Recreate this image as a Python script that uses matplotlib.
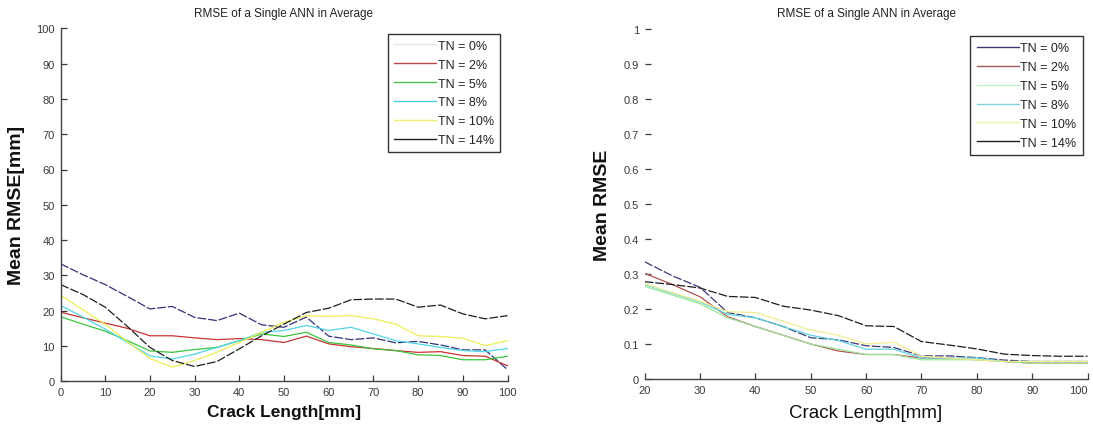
import matplotlib
matplotlib.use("Agg")
import matplotlib.pyplot as plt
from matplotlib.lines import Line2D

plt.rcParams['font.family'] = ['Liberation Sans', 'DejaVu Sans']

# ---- data: mean RMSE vs crack length for each training-noise (TN) level ----
labels = ["TN = 0%", "TN = 2%", "TN = 5%", "TN = 8%", "TN = 10%", "TN = 14%"]

# Left panel: RMSE in mm, crack length 0..100 mm
crack_mm = [0, 5, 10, 15, 20, 25, 30, 35, 40, 45, 50, 55, 60, 65, 70, 75, 80, 85, 90, 95, 100]
rmse_mm_tn0 = [33.3, 30.2, 27.4, 24.0, 20.5, 21.2, 18.1, 17.2, 19.3, 16.0, 15.3, 18.2,
               12.8, 11.8, 12.3, 10.9, 11.3, 10.3, 8.9, 8.9, 3.3]
rmse_mm_tn2 = [19.6, 18.0, 16.5, 15.0, 12.9, 12.9, 12.3, 11.8, 12.1, 11.8, 11.0, 12.8,
               10.6, 9.8, 9.3, 8.7, 8.2, 8.4, 7.3, 7.1, 4.4]
rmse_mm_tn5 = [18.3, 16.2, 14.2, 11.5, 8.6, 8.2, 9.0, 9.6, 11.5, 13.4, 12.7, 13.9,
               11.0, 10.3, 9.2, 8.7, 7.5, 7.3, 6.1, 6.1, 7.1]
rmse_mm_tn8 = [21.5, 18.2, 14.8, 11.0, 7.2, 6.3, 7.7, 9.6, 11.5, 13.9, 14.4, 15.8,
               14.4, 15.3, 13.4, 11.5, 10.6, 9.6, 8.7, 8.4, 9.3]
rmse_mm_tn10 = [24.4, 20.3, 16.2, 11.2, 6.5, 4.0, 5.9, 8.2, 11.0, 13.9, 16.7, 18.6,
                18.4, 18.6, 17.7, 16.2, 12.9, 12.7, 12.2, 10.1, 11.5]
rmse_mm_tn14 = [27.4, 24.6, 21.0, 15.5, 9.6, 5.9, 4.2, 5.6, 9.2, 12.9, 16.2, 19.5,
                20.7, 23.1, 23.3, 23.3, 21.0, 21.6, 19.1, 17.7, 18.6]

# Right panel: normalised RMSE, crack length 20..100 mm
crack_rel = [20, 25, 30, 35, 40, 45, 50, 55, 60, 65, 70, 75, 80, 85, 90, 95, 100]
rmse_tn0 = [0.335, 0.295, 0.262, 0.190, 0.175, 0.150, 0.118, 0.112, 0.095, 0.090,
            0.066, 0.066, 0.061, 0.054, 0.050, 0.050, 0.050]
rmse_tn2 = [0.302, 0.270, 0.235, 0.178, 0.150, 0.125, 0.100, 0.080, 0.070, 0.070,
            0.060, 0.060, 0.055, 0.050, 0.045, 0.045, 0.045]
rmse_tn5 = [0.265, 0.240, 0.215, 0.175, 0.150, 0.125, 0.100, 0.085, 0.070, 0.070,
            0.055, 0.055, 0.055, 0.050, 0.045, 0.045, 0.045]
rmse_tn8 = [0.270, 0.245, 0.220, 0.185, 0.175, 0.150, 0.125, 0.110, 0.085, 0.085,
            0.060, 0.060, 0.060, 0.050, 0.050, 0.050, 0.050]
rmse_tn10 = [0.272, 0.247, 0.222, 0.192, 0.190, 0.165, 0.140, 0.125, 0.100, 0.105,
             0.065, 0.060, 0.055, 0.050, 0.050, 0.050, 0.050]
rmse_tn14 = [0.278, 0.270, 0.260, 0.236, 0.233, 0.208, 0.197, 0.181, 0.152, 0.150,
             0.107, 0.097, 0.086, 0.071, 0.067, 0.065, 0.065]

left_series = [rmse_mm_tn0, rmse_mm_tn2, rmse_mm_tn5, rmse_mm_tn8, rmse_mm_tn10, rmse_mm_tn14]
right_series = [rmse_tn0, rmse_tn2, rmse_tn5, rmse_tn8, rmse_tn10, rmse_tn14]

left_colors = ["#33337c", "#c83434", "#3cc43c", "#4fd6e6", "#eeee55", "#1e1e1e"]
right_colors = ["#3a3a78", "#b45050", "#9ae89a", "#62d4e0", "#f2ee90", "#1e1e1e"]
left_legend_colors = ["#e6e9f4", "#c04848", "#48c048", "#48d0e0", "#eeee70", "#202020"]
right_legend_colors = ["#3a3a70", "#a05858", "#c4f2c4", "#80d4dc", "#f0f0a8", "#202020"]
dark_dash = (0, (7, 1.6))
styles = [dark_dash, "-", "-", "-", "-", dark_dash]

W, H = 1093, 427
fig = plt.figure(figsize=(W / 100, H / 100), dpi=100)
ax1 = fig.add_axes([60.5 / W, (H - 382.3) / H, 447 / W, 353 / H])
ax2 = fig.add_axes([644.6 / W, (H - 380) / H, 443 / W, 350 / H])

tick_col = "#3a3a3a"
title = "RMSE of a Single ANN in Average"


def style_axes(ax, show_left):
    for s in ["top", "right"]:
        ax.spines[s].set_visible(False)
    ax.spines["left"].set_visible(show_left)
    for s in ["left", "bottom"]:
        ax.spines[s].set_color("#444444")
        ax.spines[s].set_linewidth(1.0)
    ax.tick_params(direction="in", length=4.5, width=0.9, colors=tick_col,
                   labelsize=8, pad=4)
    ax.set_title(title, fontsize=8.5, color="#222222", pad=9)


def add_legend(ax, colors, anchor):
    handles = [Line2D([], [], color=c, lw=1.0) for c in colors]
    leg = ax.legend(handles, labels, loc="upper right", bbox_to_anchor=anchor,
                    borderaxespad=0, fontsize=9, handlelength=3.4,
                    handletextpad=0.1, labelspacing=0.55, borderpad=0.5,
                    fancybox=False, framealpha=1)
    leg.get_frame().set_edgecolor("#333333")
    leg.get_frame().set_linewidth(1.0)
    for t in leg.get_texts():
        t.set_color("#222222")


# left panel
for vals, col, ls in zip(left_series, left_colors, styles):
    ax1.plot(crack_mm, vals, color=col, lw=0.9, linestyle=ls)
ax1.set_xlim(0, 100)
ax1.set_ylim(0, 100)
ax1.set_xticks(range(0, 101, 10))
ax1.set_yticks(range(0, 101, 10))
style_axes(ax1, True)
ax1.set_xlabel("Crack Length[mm]", fontsize=12.5, fontweight="bold", color="#111111")
ax1.set_ylabel("Mean RMSE[mm]", fontsize=14, fontweight="bold", color="#111111")
ax1.xaxis.set_label_coords(0.5, -0.064)
ax1.yaxis.set_label_coords(-0.079, 0.5)
add_legend(ax1, left_legend_colors, (0.983, 0.985))

# right panel
for vals, col, ls in zip(right_series, right_colors, styles):
    ax2.plot(crack_rel, vals, color=col, lw=0.9, linestyle=ls)
ax2.set_xlim(20, 100)
ax2.set_ylim(0, 1)
ax2.set_xticks(range(20, 101, 10))
ax2.set_yticks([0, 0.1, 0.2, 0.3, 0.4, 0.5, 0.6, 0.7, 0.8, 0.9, 1])
ax2.set_yticklabels(["0", "0.1", "0.2", "0.3", "0.4", "0.5", "0.6", "0.7", "0.8", "0.9", "1"])
style_axes(ax2, False)
# keep the last x tick label inside the figure edge
ax2.get_xticklabels()[-1].set_horizontalalignment("right")
ax2.set_xlabel("Crack Length[mm]", fontsize=13.5, color="#111111")
ax2.set_ylabel("Mean RMSE", fontsize=14, fontweight="bold", color="#111111")
ax2.xaxis.set_label_coords(0.5, -0.071)
ax2.yaxis.set_label_coords(-0.076, 0.5)
add_legend(ax2, right_legend_colors, (0.989, 0.98))

fig.savefig("out.png", dpi=100, facecolor="white")
